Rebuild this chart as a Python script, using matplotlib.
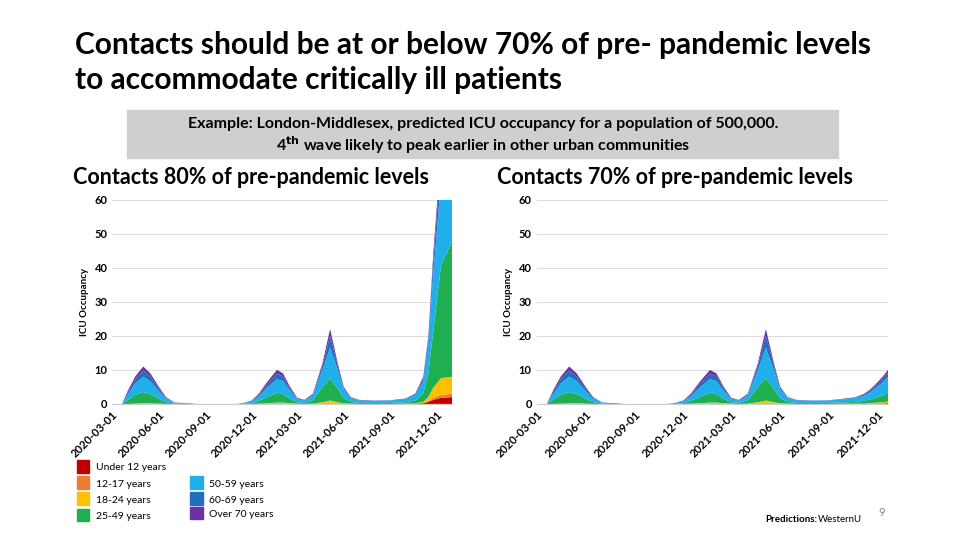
import matplotlib.pyplot as plt
import matplotlib.dates as mdates
import numpy as np
from matplotlib.patches import Rectangle

plt.rcParams['font.family'] = ['Lato', 'DejaVu Sans']

dates = ['2020-03-20', '2020-04-01', '2020-04-15', '2020-05-01', '2020-05-15', '2020-06-01',
         '2020-06-15', '2020-07-01', '2020-07-15', '2020-08-01', '2020-08-15', '2020-11-01',
         '2020-11-15', '2020-12-01', '2020-12-15', '2021-01-01', '2021-01-20', '2021-02-01',
         '2021-02-15', '2021-03-01', '2021-03-15', '2021-04-01', '2021-04-20', '2021-05-05',
         '2021-05-20', '2021-06-01', '2021-06-15', '2021-07-01', '2021-08-01', '2021-09-01',
         '2021-10-01', '2021-10-20', '2021-11-05', '2021-11-15', '2021-11-25', '2021-12-10',
         '2022-01-01']

# 80% scenario, per age group
u12 = [0, 0, 0, 0, 0, 0, 0, 0, 0, 0, 0, 0, 0, 0, 0, 0, 0, 0, 0, 0, 0, 0, 0, 0, 0, 0, 0, 0, 0, 0,
       0, 0.1, 0.2, 0.6, 1.2, 1.8, 2.0]
a12 = [0, 0, 0, 0, 0, 0, 0, 0, 0, 0, 0, 0, 0, 0, 0, 0, 0, 0, 0, 0, 0, 0, 0, 0, 0, 0, 0, 0, 0, 0,
       0, 0, 0.1, 0.3, 0.6, 0.8, 1.0]
a18 = [0, 0, 0.1, 0.2, 0.2, 0.1, 0, 0, 0, 0, 0, 0, 0, 0, 0.1, 0.2, 0.4, 0.4, 0.2, 0.1, 0, 0.1,
       0.5, 1.0, 0.5, 0.2, 0.1, 0, 0, 0, 0.1, 0.1, 0.3, 1.2, 3.0, 5.0, 5.0]
a25 = [0, 1.2, 2.6, 3.3, 2.7, 1.4, 0.5, 0.1, 0, 0, 0, 0, 0, 0.2, 0.8, 1.8, 2.9, 2.5, 1.3, 0.4,
       0.3, 1.0, 4.5, 6.5, 4.0, 1.5, 0.5, 0.3, 0.3, 0.3, 0.4, 0.8, 2.5, 7.0, 17, 33, 40]
a50 = [0, 1.6, 3.3, 4.5, 3.8, 2.2, 1.0, 0.3, 0.3, 0.2, 0, 0, 0.3, 0.5, 1.3, 2.8, 4.0, 3.8, 2.3,
       0.9, 0.6, 1.3, 5.0, 9.0, 5.5, 2.5, 1.1, 0.7, 0.6, 0.7, 0.9, 1.5, 3.5, 8, 17, 25, 30]
a60 = [0, 0.7, 1.2, 1.8, 1.4, 0.8, 0.3, 0.1, 0, 0, 0, 0, 0, 0.2, 0.5, 1.0, 1.6, 1.4, 0.7, 0.2,
       0.2, 0.4, 1.3, 3.5, 1.3, 0.5, 0.2, 0.1, 0.1, 0.1, 0.2, 0.3, 0.9, 2, 4, 6, 7]
a70 = [0, 0.5, 0.8, 1.2, 0.9, 0.5, 0.2, 0, 0, 0, 0, 0, 0, 0.1, 0.3, 0.7, 1.1, 0.9, 0.5, 0.2,
       0.1, 0.2, 0.7, 2.0, 0.7, 0.3, 0.1, 0.1, 0, 0, 0, 0.2, 0.5, 0.9, 2, 3, 4]

# 70% scenario: same as 80% up to Sept 2021, then a slower rise
tail_dates = ['2021-10-01', '2021-10-20', '2021-11-05', '2021-11-15', '2021-11-25',
              '2021-12-10', '2021-12-20']
t_u12 = [0, 0, 0, 0.05, 0.1, 0.1, 0.2]
t_a12 = [0, 0, 0, 0, 0.05, 0.1, 0.1]
t_a18 = [0.1, 0.1, 0.1, 0.2, 0.2, 0.3, 0.4]
t_a25 = [0.4, 0.5, 0.8, 1.0, 1.4, 2.0, 2.6]
t_a50 = [0.9, 1.1, 1.5, 2.0, 2.7, 3.8, 4.6]
t_a60 = [0.2, 0.2, 0.4, 0.5, 0.7, 1.0, 1.3]
t_a70 = [0, 0.1, 0.2, 0.3, 0.4, 0.7, 0.8]

labels = ['Under 12 years', '12-17 years', '18-24 years', '25-49 years',
          '50-59 years', '60-69 years', 'Over 70 years']
colors = ['#c00000', '#ed7d31', '#ffc000', '#1fae50', '#1fb0ec', '#1f6fbf', '#7030a0']

fig = plt.figure(figsize=(9.6, 5.4), dpi=100)
fig.text(0.078, 0.9, 'Contacts should be at or below 70% of pre- pandemic levels',
         fontsize=21.5, fontweight='bold')
fig.text(0.078, 0.835, 'to accommodate critically ill patients', fontsize=21.5, fontweight='bold')
fig.patches.append(Rectangle((0.132, 0.707), 0.741, 0.09, transform=fig.transFigure,
                             color='#d0cfcf', zorder=0))
fig.text(0.503, 0.763, 'Example: London-Middlesex, predicted ICU occupancy for a population of 500,000.',
         ha='center', fontsize=11.5, fontweight='bold')
fig.text(0.503, 0.72, r'4$^{\mathbf{th}}$ wave likely to peak earlier in other urban communities',
         ha='center', fontsize=11.5, fontweight='bold')

ticks = ['2020-03-01', '2020-06-01', '2020-09-01', '2020-12-01',
         '2021-03-01', '2021-06-01', '2021-09-01', '2021-12-01']


def panel(rect, title, d, series, xend):
    ax = fig.add_axes(rect)
    x = np.array(d, dtype='datetime64[D]')
    ax.stackplot(x, *series, colors=colors, linewidth=0)
    ax.set_ylim(0, 60)
    ax.set_xlim(np.datetime64('2020-03-01'), np.datetime64(xend))
    ax.set_yticks(range(0, 61, 10))
    ax.set_xticks(np.array(ticks, dtype='datetime64[D]'))
    ax.xaxis.set_major_formatter(mdates.DateFormatter('%Y-%m-%d'))
    ax.grid(axis='y', color='#dddddd', lw=0.8)
    ax.set_axisbelow(True)
    for s in ['top', 'right', 'left']:
        ax.spines[s].set_visible(False)
    ax.spines['bottom'].set_color('#cccccc')
    ax.tick_params(length=0, labelsize=8)
    for t in ax.get_xticklabels() + ax.get_yticklabels():
        t.set_fontweight('bold')
    plt.setp(ax.get_xticklabels(), rotation=45, ha='right', rotation_mode='anchor')
    ax.set_ylabel('ICU Occupancy', fontsize=7, fontweight='bold')
    fig.text(rect[0] - 0.041, 0.652, title, fontsize=15.5, fontweight='bold',
             transform=fig.transFigure, va='bottom')
    return ax


panel([0.117, 0.252, 0.354, 0.378], 'Contacts 80% of pre-pandemic levels', dates,
      [u12, a12, a18, a25, a50, a60, a70], '2022-01-01')

cut = dates.index('2021-10-01')
d2 = dates[:cut] + tail_dates
s2 = [a[:cut] + b for a, b in zip([u12, a12, a18, a25, a50, a60, a70],
                                   [t_u12, t_a12, t_a18, t_a25, t_a50, t_a60, t_a70])]
panel([0.559, 0.252, 0.366, 0.378], 'Contacts 70% of pre-pandemic levels', d2, s2, '2021-12-20')

# legend
pos = [(0.08, 0.125), (0.08, 0.095), (0.08, 0.065), (0.08, 0.035),
       (0.198, 0.095), (0.198, 0.065), (0.198, 0.038)]
for (px, py), lab, c in zip(pos, labels, colors):
    fig.patches.append(Rectangle((px, py), 0.013, 0.023, transform=fig.transFigure, color=c))
    fig.text(px + 0.02, py + 0.004, lab, fontsize=7.5)

fig.text(0.797, 0.033, 'Predictions:', fontsize=7, fontweight='bold')
fig.text(0.852, 0.033, 'WesternU', fontsize=7)
fig.text(0.915, 0.045, '9', fontsize=8, color='#888888')

fig.savefig('out.png', dpi=100)
